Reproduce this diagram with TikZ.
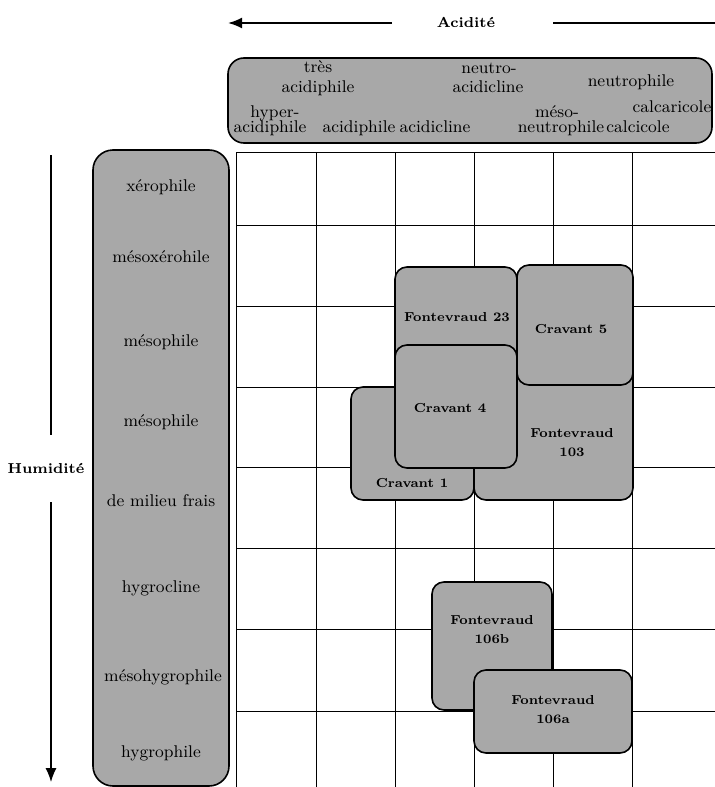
\documentclass[tikz,border=0pt]{standalone}
\usepackage{tikz}
\usetikzlibrary{arrows.meta}
\definecolor{zonegray}{gray}{0.66}
\tikzset{
  zone/.style={draw=black,line width=.8pt,fill=zonegray,rounded corners=6pt},
  site/.style={font=\fontsize{6.5}{9.5}\selectfont\bfseries,align=center,inner sep=0pt},
  term/.style={font=\fontsize{8.5}{9}\selectfont,inner sep=0pt,anchor=base},
  axlbl/.style={font=\fontsize{7.2}{9}\selectfont\bfseries,inner sep=0pt,anchor=base},
  axis/.style={line width=1pt,-{Latex[length=7pt,width=5.5pt]}}
}
\begin{document}
\begin{tikzpicture}[x=.5pt,y=-.5pt]
\useasboundingbox (0,0) rectangle (715,787);
% grid
\foreach \x in {236,316,395,474,553,632}{\draw[line width=.5pt] (\x,152.5) -- (\x,787);}
\foreach \y in {152.5,225,306,387,467,548,629,711}{\draw[line width=.5pt] (236,\y) -- (715,\y);}
% axes
\node[axlbl] (acid) at (466,27) {Acidité};
\coordinate (acidL) at (228,23); \coordinate (acidA) at (392,23);
\coordinate (acidB) at (553,23); \coordinate (acidR) at (715,23);
\draw[axis] (acidA) -- (acidL); \draw[line width=1pt] (acidB) -- (acidR);
\node[axlbl] (hum) at (46,473) {Humidité};
\coordinate (humT) at (51,155); \coordinate (humA) at (51,435);
\coordinate (humB) at (51,502); \coordinate (humE) at (51,782);
\draw[line width=.6pt] (humT) -- (humA); \draw[axis,line width=.6pt] (humB) -- (humE);
% acidity scale
\draw[zone,rounded corners=8pt] (228,58) rectangle (712,143);
\node[term] (tres) at (318,72) {très};
\node[term] (tresac) at (318,92) {acidiphile};
\node[term] (neutro) at (489,73) {neutro-};
\node[term] (neutroac) at (488,92) {acidicline};
\node[term] (neutroph) at (631,86) {neutrophile};
\node[term] (calcari) at (672,112) {calcaricole};
\node[term] (hyper) at (275,117) {hyper-};
\node[term] (hyperac) at (270,132) {acidiphile};
\node[term] (acidiph) at (359,132) {acidiphile};
\node[term] (acidicl) at (435,132) {acidicline};
\node[term] (meso) at (557,117) {méso-};
\node[term] (mesoneu) at (561,132) {neutrophile};
\node[term] (calci) at (638,132) {calcicole};
% humidity scale
\draw[zone,rounded corners=10pt] (93,150) rectangle (229,786);
\node[term] (xero) at (161,191) {xérophile};
\node[term] (mesoxero) at (161,262) {mésoxérohile};
\node[term] (mesoA) at (161,346) {mésophile};
\node[term] (mesoB) at (161,426) {mésophile};
\node[term] (frais) at (161,506) {de milieu frais};
\node[term] (hygrocl) at (161,592) {hygrocline};
\node[term] (mesohyg) at (163,681) {mésohygrophile};
\node[term] (hygro) at (161,757) {hygrophile};
% sites
\draw[zone] (395,267) rectangle (517,460);
\draw[zone] (474,360) rectangle (633,500);
\draw[zone] (351,387) rectangle (474,500);
\draw[zone] (395,345) rectangle (517,468);
\draw[zone] (517,265) rectangle (633,385);
\draw[zone] (432,582) rectangle (552,710);
\draw[zone] (474,670) rectangle (632,753);
\node[site,anchor=base] (f23) at (457,321) {Fontevraud 23};
\node[site,anchor=base] (c5) at (571,333) {Cravant 5};
\node[site,anchor=base] (c4) at (450,412) {Cravant 4};
\node[site,anchor=base] (c1) at (412,487) {Cravant 1};
\node[site] (f103) at (572,443) {Fontevraud\\103};
\node[site] (f106b) at (492,630) {Fontevraud\\106b};
\node[site] (f106a) at (553,710) {Fontevraud\\106a};
\end{tikzpicture}
\end{document}
